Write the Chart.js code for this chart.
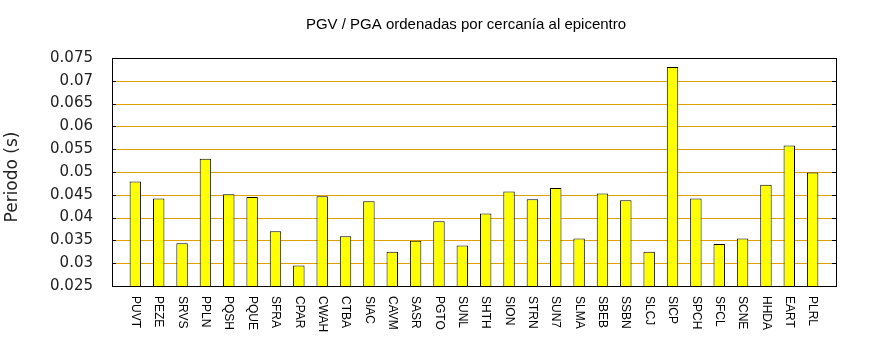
<!DOCTYPE html>
<html>
<head>
<meta charset="utf-8">
<script src="https://cdn.jsdelivr.net/npm/chart.js@4/dist/chart.umd.min.js"></script>
<style>
  html, body { margin: 0; padding: 0; background: #ffffff; }
  #wrap { width: 870px; height: 350px; }
</style>
</head>
<body>
<div id="wrap"><canvas id="c" width="870" height="350"></canvas></div>
<script>
// ---- data ----
const titleText = 'PGV / PGA ordenadas por cercanía al epicentro';
const yAxisLabel = 'Periodo (s)';
const categories = ['PUVT','PEZE','SRVS','PPLN','PQSH','PQUE','SFRA','CPAR','CWAH','CTBA',
  'SIAC','CAVM','SASR','PGTO','SUNL','SHTH','SION','STRN','SUN7','SLMA',
  'SBEB','SSBN','SLCJ','SICP','SPCH','SFCL','SCNE','HHDA','EART','PLRL'];
const values = [0.0479,0.0442,0.0344,0.0529,0.0451,0.0445,0.0370,0.0295,0.0447,0.0359,
  0.0436,0.0325,0.0349,0.0392,0.0339,0.0409,0.0457,0.0440,0.0465,0.0354,
  0.0453,0.0438,0.0325,0.0730,0.0442,0.0342,0.0354,0.0472,0.0558,0.0499];
const yTickLabels = ['0.025','0.03','0.035','0.04','0.045','0.05','0.055','0.06','0.065','0.07','0.075'];
const yMin = 0.025, yMax = 0.075, yStep = 0.005;

// ---- decorations drawn through the chart's scales ----
const decor = {
  id: 'decor',
  beforeDatasetsDraw(chart) {
    const { ctx, chartArea: a, scales: { y } } = chart;
    ctx.save();
    ctx.strokeStyle = '#e0a000';
    ctx.lineWidth = 1;
    y.ticks.forEach(t => {
      const py = Math.round(y.getPixelForValue(t.value)) + 0.5;
      ctx.beginPath();
      ctx.moveTo(a.left + 4, py); ctx.lineTo(a.right - 4, py);
      ctx.stroke();
    });
    ctx.restore();
  },
  afterDatasetsDraw(chart) {
    const { ctx, chartArea: a, scales: { x, y } } = chart;
    ctx.save();
    ctx.strokeStyle = '#000';
    ctx.lineWidth = 1;
    // inward tick marks on left and right
    y.ticks.forEach(t => {
      const py = Math.round(y.getPixelForValue(t.value)) + 0.5;
      ctx.beginPath();
      ctx.moveTo(a.left, py); ctx.lineTo(a.left + 4, py);
      ctx.moveTo(a.right - 4, py); ctx.lineTo(a.right, py);
      ctx.stroke();
    });
    // frame
    ctx.strokeRect(a.left + 0.5, a.top + 0.5, a.right - a.left, a.bottom - a.top);
    // category labels rotated clockwise (top to bottom)
    ctx.fillStyle = '#000';
    ctx.font = '12px "Liberation Sans", Arial, sans-serif';
    ctx.textAlign = 'left';
    ctx.textBaseline = 'middle';
    categories.forEach((c, i) => {
      const px = x.getPixelForValue(i);
      ctx.save();
      ctx.translate(px, a.bottom + 10);
      ctx.rotate(Math.PI / 2);
      ctx.fillText(c, 0, 0);
      ctx.restore();
    });
    // title
    ctx.font = '15px "Liberation Sans", Arial, sans-serif';
    ctx.textAlign = 'center';
    ctx.fillText(titleText, 466, 25);
    // y axis label
    ctx.save();
    ctx.font = '17px "DejaVu Sans", sans-serif';
    ctx.fillStyle = '#222';
    ctx.translate(13, 177);
    ctx.rotate(-Math.PI / 2);
    ctx.fillText(yAxisLabel, 0, 0);
    ctx.restore();
    ctx.restore();
  }
};

new Chart(document.getElementById('c'), {
  type: 'bar',
  data: {
    datasets: [{
      data: values.map((v, i) => ({ x: i, y: v })),
      backgroundColor: '#ffff00',
      borderColor: '#000000',
      borderWidth: 1,
      borderSkipped: 'start',
      base: yMin,
      categoryPercentage: 1,
      barPercentage: 0.49
    }]
  },
  options: {
    responsive: false,
    animation: false,
    layout: { padding: { top: 58, left: 0, right: 34, bottom: 64 } },
    plugins: { legend: { display: false }, title: { display: false }, tooltip: { enabled: false } },
    scales: {
      x: { type: 'linear', min: -1, max: 30, offset: false, display: false, grid: { offset: false } },
      y: {
        min: yMin, max: yMax,
        ticks: {
          stepSize: yStep,
          padding: 19,
          color: '#222',
          font: { family: 'DejaVu Sans', size: 15 },
          callback: (v) => yTickLabels[Math.round((v - yMin) / yStep)]
        },
        grid: { display: false, drawTicks: false },
        border: { display: false },
        afterFit(s) { s.width = 112; }
      }
    }
  },
  plugins: [decor]
});
</script>
</body>
</html>
